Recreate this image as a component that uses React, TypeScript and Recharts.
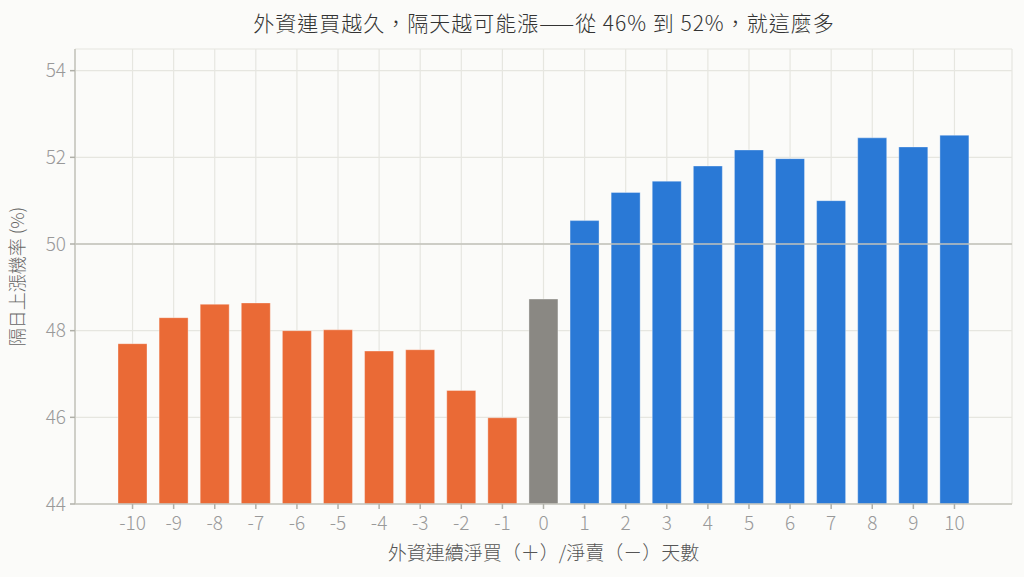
import React from "react";
import {
  BarChart,
  Bar,
  Cell,
  XAxis,
  YAxis,
  CartesianGrid,
  ReferenceLine,
  Label,
} from "recharts";

const FONT = '"Noto Sans CJK TC", "Noto Sans", sans-serif';

const DAYS = ["-10", "-9", "-8", "-7", "-6", "-5", "-4", "-3", "-2", "-1", "0", "1", "2", "3", "4", "5", "6", "7", "8", "9", "10"];
const UP_PROB = [47.7, 48.3, 48.61, 48.64, 48.0, 48.02, 47.53, 47.56, 46.62, 45.99, 48.73, 50.54, 51.19, 51.45, 51.8, 52.17, 51.97, 51.0, 52.45, 52.24, 52.51];
const Y_TICKS = [44, 46, 48, 50, 52, 54];

const SELL = "#ea6a36";
const FLAT = "#8a8883";
const BUY = "#2a79d6";

const data = DAYS.map((d, i) => ({ day: d, prob: UP_PROB[i] }));

function colorFor(day: string) {
  const n = Number(day);
  if (n < 0) return SELL;
  if (n > 0) return BUY;
  return FLAT;
}

export default function App() {
  return (
    <div style={{ position: "relative", width: 1024, height: 577, background: "#fbfbf9", fontFamily: FONT }}>
      <style>{"body{margin:0}"}</style>
      <div
        style={{
          position: "absolute",
          top: 7,
          left: 0,
          width: 1088,
          textAlign: "center",
          fontSize: 21,
          fontWeight: 300,
          color: "#333",
          letterSpacing: 1,
        }}
      >
        外資連買越久，隔天越可能漲——從 46% 到 52%，就這麼多
      </div>
      <BarChart
        width={1024}
        height={577}
        data={data}
        margin={{ top: 49, right: 12, bottom: 20, left: 30 }}
        style={{ position: "absolute", top: 0, left: 0 }}
      >
        <CartesianGrid stroke="#e6e6e0" strokeWidth={1.2} />
        <XAxis
          dataKey="day"
          padding={{ left: 37, right: 37 }}
          height={53}
          stroke="#c4c4bc"
          strokeWidth={1.5}
          tickLine={{ stroke: "#b0b0a8" }}
          tickSize={5}
          tickMargin={8}
          tick={{ fill: "#999", fontSize: 19, fontWeight: 300, fontFamily: FONT }}
          interval={0}
        >
          <Label
            value="外資連續淨買（＋）/淨賣（－）天數"
            position="insideBottom"
            offset={-3}
            style={{ fill: "#555", fontSize: 19, fontWeight: 300, fontFamily: FONT }}
          />
        </XAxis>
        <YAxis
          domain={[44, 54.5]}
          ticks={Y_TICKS}
          width={45}
          stroke="#c4c4bc"
          strokeWidth={1.5}
          tickLine={{ stroke: "#b0b0a8" }}
          tickSize={5}
          tickMargin={4}
          tick={{ fill: "#999", fontSize: 19, fontWeight: 300, fontFamily: FONT }}
          allowDataOverflow
        >
          <Label
            value="隔日上漲機率 (%)"
            angle={-90}
            position="insideLeft"
            offset={-12}
            style={{ fill: "#666", fontSize: 18, fontWeight: 300, fontFamily: FONT, textAnchor: "middle" }}
          />
        </YAxis>
        <Bar
          dataKey="prob"
          barSize={29}
          stroke="rgba(255,255,255,0.35)"
          strokeWidth={1}
          isAnimationActive={false}
        >
          {data.map((d) => (
            <Cell key={d.day} fill={colorFor(d.day)} />
          ))}
        </Bar>
        <ReferenceLine y={50} stroke="#c2c2ba" strokeWidth={1.5} />
      </BarChart>
    </div>
  );
}
